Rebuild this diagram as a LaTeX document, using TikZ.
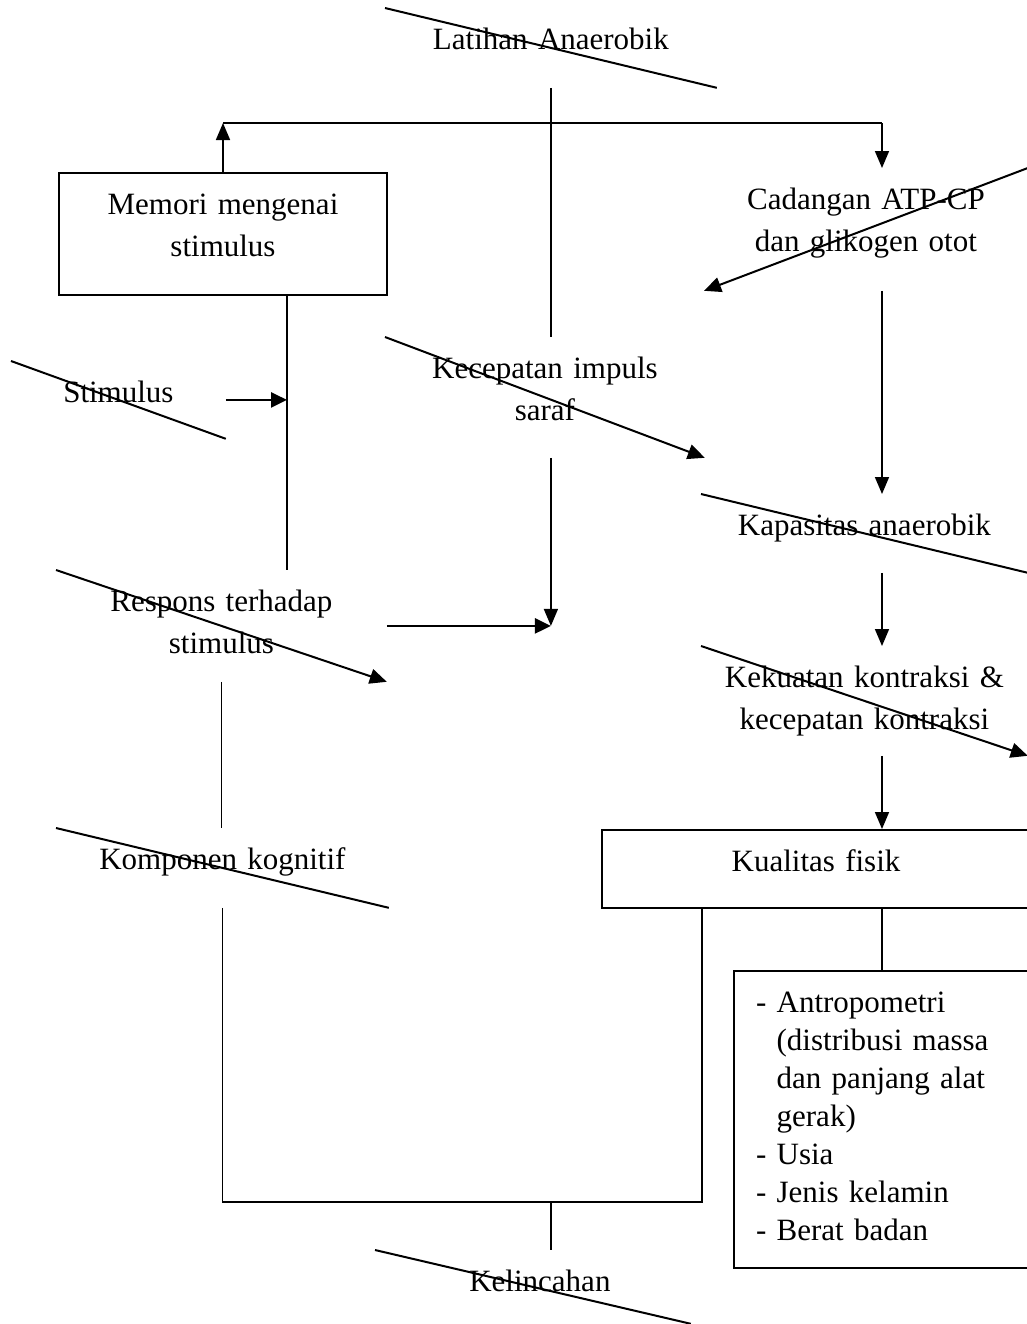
\documentclass[tikz,border=0pt]{standalone}
\usepackage{fontspec}
\setmainfont{Liberation Serif}
\usetikzlibrary{arrows.meta}

\begin{document}
\begin{tikzpicture}[x=0.5pt, y=-0.5pt,
    teks/.style={inner sep=0pt, align=center, text height=20.5pt, anchor=north west, font=\fontsize{15.5}{21}\selectfont},
    kotak/.style={teks, draw, line width=1pt},
    garis/.style={line width=0.8pt},
    panah/.style={line width=0.8pt, -{Triangle[length=8.5pt, width=7pt]}},
    panahtebal/.style={line width=1.3pt, -{Triangle[length=8pt, width=7.5pt]}},
    coret/.style={line width=1pt},
    coretpanah/.style={line width=1pt, -{Triangle[length=8.5pt, width=7.5pt]}}]
    \useasboundingbox (0,0) rectangle (1027,1324);
    \clip (0,0) rectangle (1027,1324);

    \node[teks, text width=165.5pt, text depth=19pt] (latihan) at (385,8) {Latihan Anaerobik};
    \node[kotak, text width=164pt, text depth=40.5pt] (memori) at (58,172) {Memori mengenai\\stimulus};
    \node[teks, text width=161.5pt, text depth=40.5pt] (cadangan) at (704,168) {Cadangan ATP-CP\\dan glikogen otot};
    \node[teks, text width=159.5pt, text depth=39.5pt] (kecepatan) at (385,337) {Kecepatan impuls\\saraf};
    \node[teks, text width=107pt, text depth=18pt] (stimulus) at (11,361) {Stimulus};
    \node[teks, text width=163pt, text depth=18.5pt] (kapasitas) at (701,494) {Kapasitas anaerobik};
    \node[teks, text width=165pt, text depth=35pt] (respons) at (56,570) {Respons terhadap\\stimulus};
    \node[teks, text width=163pt, text depth=34pt] (kekuatan) at (701,646) {Kekuatan kontraksi \&\\kecepatan kontraksi};
    \node[teks, text width=166pt, text depth=19pt] (komponen) at (56,828) {Komponen kognitif};
    \node[kotak, text width=214pt, text depth=18.5pt] (kualitas) at (601,829) {Kualitas fisik};
    \node[kotak, align=left, inner xsep=11pt, text width=150pt, text depth=128pt,
        font=\fontsize{15.5}{19}\selectfont] (daftar) at (733,970)
        {- Antropometri\\\phantom{- }(distribusi massa\\\phantom{- }dan panjang alat\\\phantom{- }gerak)\\- Usia\\- Jenis kelamin\\- Berat badan};
    \node[teks, text width=157.5pt, text depth=16pt] (kelincahan) at (375,1250) {\hspace*{7pt}Kelincahan};

    \coordinate (cabang) at (552,123);
    \coordinate (sumbu) at (287,0);
    \coordinate (kolom) at (882,0);
    \coordinate (siku) at (702,1202);
    \coordinate (temu) at (respons.east -| latihan.south);

    \draw[coret] (latihan.north west) -- (latihan.south east);
    \draw[coretpanah] (cadangan.north east) -- (cadangan.south west);
    \draw[coretpanah] (kecepatan.north west) -- (kecepatan.south east);
    \draw[coret] (stimulus.north west) -- (stimulus.south east);
    \draw[coret] (kapasitas.north west) -- (kapasitas.south east);
    \draw[coretpanah] (respons.north west) -- (respons.south east);
    \draw[coretpanah] (kekuatan.north west) -- (kekuatan.south east);
    \draw[coret] (komponen.north west) -- (komponen.south east);
    \draw[coret] (kelincahan.north west) -- (kelincahan.south east);

    \draw[garis] (latihan.south) -- (latihan.south |- kecepatan.north);
    \draw[line width=1pt] (memori.north |- cabang) -- (kolom |- cabang);
    \draw[panah] (memori.north) -- (memori.north |- cabang);
    \draw[panah] (kolom |- cabang) -- (kolom |- cadangan.north);
    \draw[garis] (sumbu |- memori.south) -- (sumbu |- respons.north);
    \draw[panahtebal] (stimulus.east) -- (stimulus.east -| sumbu);
    \draw[panah] (latihan.south |- kecepatan.south) -- (temu);
    \draw[panahtebal] (respons.east) -- (temu);
    \draw[panah] (kolom |- cadangan.south) -- (kolom |- kapasitas.north);
    \draw[panah] (kolom |- kapasitas.south) -- (kolom |- kekuatan.north);
    \draw[panah] (kolom |- kekuatan.south) -- (kolom |- kualitas.north);
    \draw[garis] (kolom |- kualitas.south) -- (kolom |- daftar.north);
    \draw[garis] (respons.south) -- (respons.south |- komponen.north);
    \draw[garis] (komponen.south) |- (siku) -- (siku |- kualitas.south);
    \draw[garis] (latihan.south |- siku) -- (latihan.south |- kelincahan.north);
\end{tikzpicture}
\end{document}
